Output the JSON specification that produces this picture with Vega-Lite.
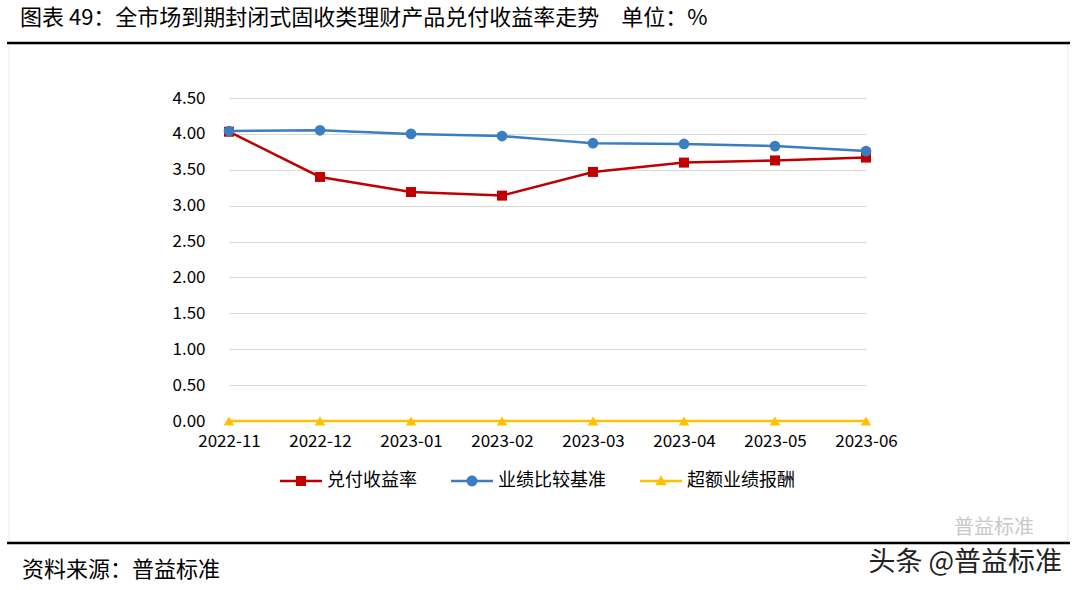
{
  "$schema": "https://vega.github.io/schema/vega-lite/v6.json",
  "autosize": {"type": "none"},
  "width": 637,
  "height": 323,
  "padding": {"left": 229, "top": 98, "right": 214, "bottom": 169},
  "background": "white",
  "config": {
    "view": {"stroke": null},
    "font": "Noto Sans CJK SC",
    "axis": {"labelFont": "Noto Sans CJK SC", "labelColor": "#000000", "labelFontSize": 17}
  },
  "title": {
    "text": "图表 49：全市场到期封闭式固收类理财产品兑付收益率走势　单位：%",
    "anchor": "start",
    "frame": "group",
    "dx": -209,
    "offset": 12,
    "fontSize": 22,
    "fontWeight": "normal",
    "color": "#000000",
    "font": "Noto Sans CJK SC"
  },
  "datasets": {
    "rates": [
      {"month": "2022-11", "series": "兑付收益率", "value": 4.03},
      {"month": "2022-12", "series": "兑付收益率", "value": 3.40},
      {"month": "2023-01", "series": "兑付收益率", "value": 3.19},
      {"month": "2023-02", "series": "兑付收益率", "value": 3.14},
      {"month": "2023-03", "series": "兑付收益率", "value": 3.47},
      {"month": "2023-04", "series": "兑付收益率", "value": 3.60},
      {"month": "2023-05", "series": "兑付收益率", "value": 3.63},
      {"month": "2023-06", "series": "兑付收益率", "value": 3.67},
      {"month": "2022-11", "series": "业绩比较基准", "value": 4.04},
      {"month": "2022-12", "series": "业绩比较基准", "value": 4.05},
      {"month": "2023-01", "series": "业绩比较基准", "value": 4.00},
      {"month": "2023-02", "series": "业绩比较基准", "value": 3.97},
      {"month": "2023-03", "series": "业绩比较基准", "value": 3.87},
      {"month": "2023-04", "series": "业绩比较基准", "value": 3.86},
      {"month": "2023-05", "series": "业绩比较基准", "value": 3.83},
      {"month": "2023-06", "series": "业绩比较基准", "value": 3.76},
      {"month": "2022-11", "series": "超额业绩报酬", "value": 0},
      {"month": "2022-12", "series": "超额业绩报酬", "value": 0},
      {"month": "2023-01", "series": "超额业绩报酬", "value": 0},
      {"month": "2023-02", "series": "超额业绩报酬", "value": 0},
      {"month": "2023-03", "series": "超额业绩报酬", "value": 0},
      {"month": "2023-04", "series": "超额业绩报酬", "value": 0},
      {"month": "2023-05", "series": "超额业绩报酬", "value": 0},
      {"month": "2023-06", "series": "超额业绩报酬", "value": 0}
    ]
  },
  "layer": [
    {
      "data": {"values": [{"k": 1}]},
      "mark": {"type": "rect", "fill": null, "stroke": "#d9d9d9", "strokeWidth": 1, "strokeDash": [1, 1]},
      "encoding": {
        "x": {"value": -220},
        "x2": {"value": 839},
        "y": {"value": -54},
        "y2": {"value": 444}
      }
    },
    {
      "data": {"values": [{"pos": -55}, {"pos": 445}]},
      "mark": {"type": "rule", "color": "#000000", "strokeWidth": 2.5},
      "encoding": {
        "x": {"value": -222},
        "x2": {"value": 841},
        "y": {"field": "pos", "type": "quantitative", "scale": null}
      }
    },
    {
      "data": {"values": [{"label": "资料来源：普益标准"}]},
      "mark": {"type": "text", "align": "left", "baseline": "middle", "fontSize": 22, "color": "#000000", "font": "Noto Sans CJK SC"},
      "encoding": {
        "x": {"value": -207},
        "y": {"value": 472},
        "text": {"field": "label"}
      }
    },
    {
      "data": {"values": [{"label": "普益标准"}]},
      "mark": {"type": "text", "align": "center", "baseline": "middle", "fontSize": 20, "color": "#c8c8c8", "font": "Noto Sans CJK SC"},
      "encoding": {
        "x": {"value": 765},
        "y": {"value": 430},
        "text": {"field": "label"}
      }
    },
    {
      "data": {"values": [{"label": "头条 @普益标准"}]},
      "mark": {"type": "text", "align": "right", "baseline": "middle", "fontSize": 27, "color": "#222222", "font": "Noto Sans CJK SC"},
      "encoding": {
        "x": {"value": 833},
        "y": {"value": 465},
        "text": {"field": "label"}
      }
    },
    {
      "data": {"name": "rates"},
      "encoding": {
        "x": {
          "field": "month",
          "type": "ordinal",
          "scale": {"type": "point", "padding": 0},
          "axis": {"title": null, "labelAngle": 0, "ticks": false, "domain": true, "domainColor": "#d9d9d9", "labelPadding": 12, "labelOverlap": false}
        },
        "y": {
          "field": "value",
          "type": "quantitative",
          "scale": {"domain": [0, 4.5], "nice": false},
          "axis": {
            "title": null,
            "values": [0, 0.5, 1, 1.5, 2, 2.5, 3, 3.5, 4, 4.5],
            "format": ".2f",
            "domain": false,
            "ticks": false,
            "labelPadding": 24,
            "labelOverlap": false,
            "labelFlush": false,
            "gridColor": "#d9d9d9",
            "gridWidth": 1
          }
        },
        "color": {
          "field": "series",
          "type": "nominal",
          "scale": {"domain": ["兑付收益率", "业绩比较基准", "超额业绩报酬"], "range": ["#C00000", "#3A7DC3", "#FFC000"]},
          "legend": {
            "title": null,
            "orient": "none",
            "legendX": 51,
            "legendY": 362,
            "direction": "horizontal",
            "columns": 3,
            "labelFontSize": 18,
            "labelColor": "#000000",
            "labelFont": "Noto Sans CJK SC",
            "symbolSize": 1764,
            "labelOffset": 5,
            "columnPadding": 34,
            "symbolStrokeWidth": 0,
            "encode": {
              "symbols": {
                "update": {
                  "shape": {"signal": "datum.value === '兑付收益率' ? 'M-1,-0.06H1V0.06H-1Z M-0.24,-0.24H0.24V0.24H-0.24Z' : datum.value === '业绩比较基准' ? 'M-1,-0.06H1V0.06H-1Z M-0.26,0A0.26,0.26 0 1,1 0.26,0A0.26,0.26 0 1,1 -0.26,0Z' : 'M-1,-0.06H1V0.06H-1Z M0,-0.27L0.27,0.2L-0.27,0.2Z'"},
                  "fill": {"scale": "color", "field": "value"},
                  "stroke": {"value": "transparent"},
                  "opacity": {"value": 1}
                }
              }
            }
          }
        }
      },
      "layer": [
        {"mark": {"type": "line", "strokeWidth": 2.5}},
        {
          "transform": [{"filter": "datum.series === '超额业绩报酬'"}],
          "mark": {"type": "point", "shape": "triangle-up", "filled": true, "opacity": 1, "size": 110}
        },
        {
          "transform": [{"filter": "datum.series === '兑付收益率'"}],
          "mark": {"type": "point", "shape": "square", "filled": true, "opacity": 1, "size": 100}
        },
        {
          "transform": [{"filter": "datum.series === '业绩比较基准'"}],
          "mark": {"type": "point", "shape": "circle", "filled": true, "opacity": 1, "size": 115}
        }
      ]
    }
  ]
}
